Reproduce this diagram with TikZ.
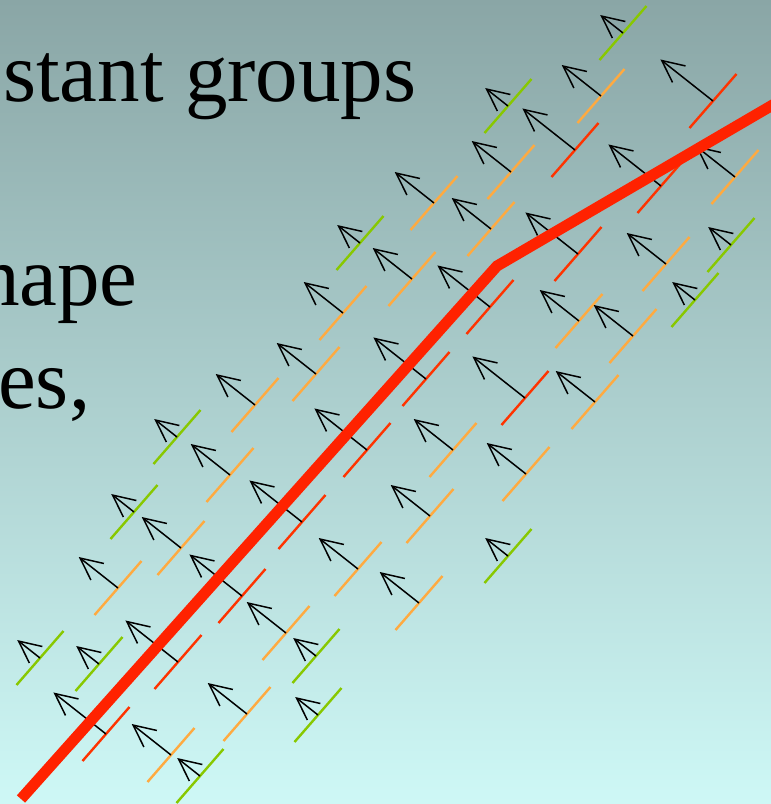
\documentclass[tikz,border=0pt]{standalone}
\usepackage{fontspec}
\setmainfont{Liberation Serif}
\newfontfamily\slidefont{Liberation Serif}
\usepackage{tikz}
\usetikzlibrary{arrows.meta}
\definecolor{bgtop}{HTML}{8AA6A6}
\definecolor{bgbottom}{HTML}{CEF8F6}
\definecolor{edgeg}{HTML}{88C800}
\definecolor{edgeo}{HTML}{FFAA40}
\definecolor{edger}{HTML}{FF3300}
\definecolor{contourred}{HTML}{FF2200}
\tikzset{
  seg/.style     = {line width=2.4pt},
  normal/.style  = {line width=1.5pt, -{Straight Barb[length=22pt, width=21pt]}},
  contour/.style = {draw=contourred, line width=11pt, line join=miter},
  slide/.style   = {font=\slidefont\fontsize{85}{100}\selectfont, inner sep=0pt, anchor=base west},
  pics/edgel/.style 2 args = {code={
      \draw[seg, draw=#1] (-23.5,27) -- (23.5,-27);
      \draw[normal] (0,0) -- ({-0.785*#2},{-0.62*#2});
  }},
}
\begin{document}
\begin{tikzpicture}[x=1pt, y=-1pt]
  \useasboundingbox (0,0) rectangle (771,804);
  \clip (0,0) rectangle (771,804);
  \shade[top color=bgtop, bottom color=bgbottom] (0,0) rectangle (771,804);
  % text of the slide, cut off at the left
  \node[slide] (groups) at (3,101) {stant groups};
  \node[slide] (shape)  at (-23,305) {hape};
  \node[slide] (edges)  at (-2,408) {es,};
  % edgels with their normals (green = weak, orange = medium, red = strong)
  \foreach \px/\py/\col/\arrlen in {
      623/33/edgeg/29, 508/106/edgeg/29, 601/96/edgeo/50, 713/101/edger/67,
      575/150/edger/67, 511/172/edgeo/50, 434/203/edgeo/50, 661/186/edger/67,
      735/177/edgeo/50, 491/229/edgeo/50, 578/254/edger/67, 666/264/edgeo/50,
      731/245/edgeg/29, 360/243/edgeg/29, 412/279/edgeo/50, 490/307/edger/67,
      579/321/edgeo/50, 633/336/edgeo/50, 695/300/edgeg/29, 343/313/edgeo/50,
      316/374/edgeo/50, 426/379/edger/67, 525/398/edger/67, 595/402/edgeo/50,
      255/405/edgeo/50, 177/437/edgeg/29, 367/450/edger/67, 453/450/edgeo/50,
      230/475/edgeo/50, 526/474/edgeo/50, 134/512/edgeg/29, 302/522/edger/67,
      430/516/edgeo/50, 181/548/edgeo/50, 358/569/edgeo/50, 508/556/edgeg/29,
      118/588/edgeo/50, 242/596/edger/67, 419/603/edgeo/50, 286/633/edgeo/50,
      40/658/edgeg/29, 99/664/edgeg/29, 178/662/edger/67, 316/656/edgeg/29,
      106/734/edger/67, 247/714/edgeo/50, 318/715/edgeg/29, 171/755/edgeo/50,
      200/776/edgeg/29}
    \pic at (\px,\py) {edgel={\col}{\arrlen}};
  % the fitted contour
  \draw[contour] (21,799) -- (497,266) -- (800,89);
\end{tikzpicture}
\end{document}
